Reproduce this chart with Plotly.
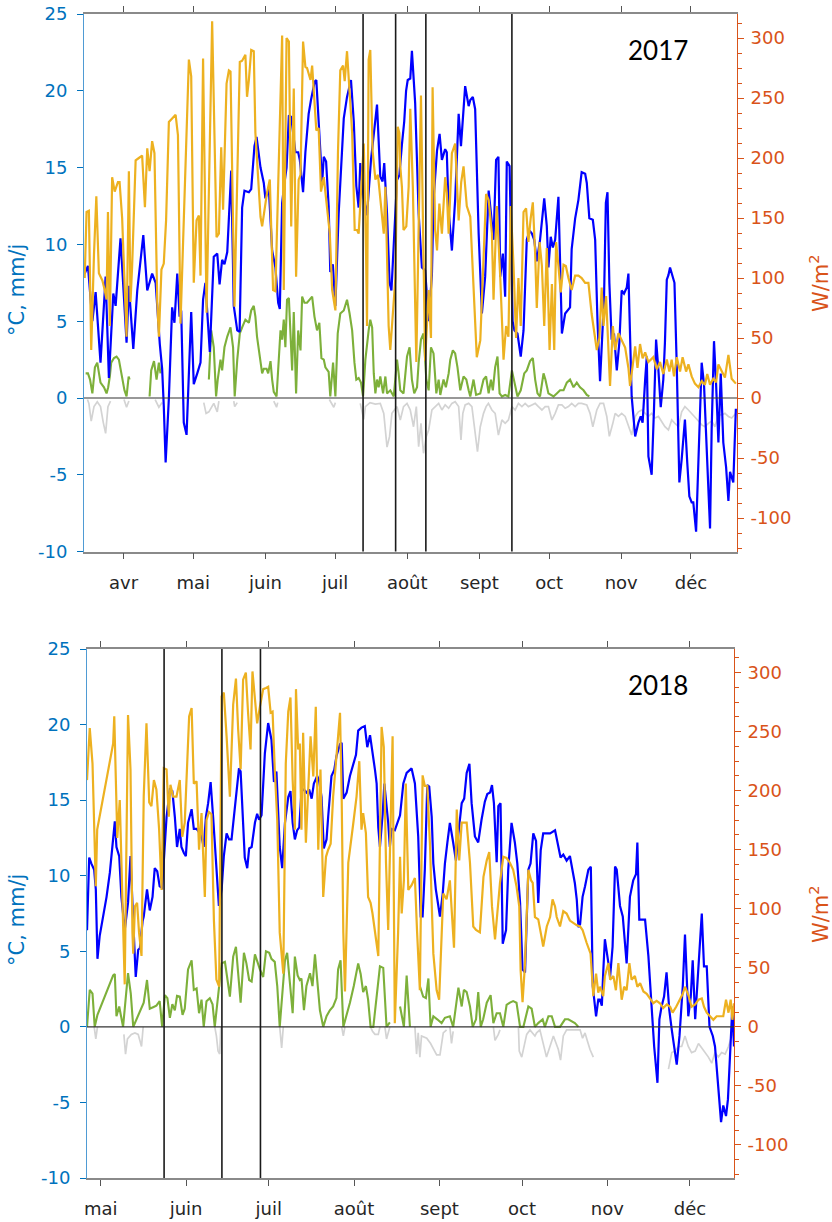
import pandas as pd
import plotly.graph_objects as go

# ---------------- DATA ----------------
BASE17 = "2017-03-15"
BASE18 = "2018-04-26"

months17 = ["2017-04-01", "2017-05-01", "2017-06-01", "2017-07-01", "2017-08-01",
            "2017-09-01", "2017-10-01", "2017-11-01", "2017-12-01"]
labels17 = ["avr", "mai", "juin", "juil", "août", "sept", "oct", "nov", "déc"]
months18 = ["2018-05-01", "2018-06-01", "2018-07-01", "2018-08-01",
            "2018-09-01", "2018-10-01", "2018-11-01", "2018-12-01"]
labels18 = ["mai", "juin", "juil", "août", "sept", "oct", "nov", "déc"]

vlines17 = ["2017-07-13", "2017-07-27", "2017-08-09", "2017-09-15"]
vlines18 = ["2018-05-24", "2018-06-14", "2018-06-28"]

left_ticks = [-10, -5, 0, 5, 10, 15, 20, 25]
left_text = ["-10", "-5", "0", "5", "10", "15", "20", "25"]
right_ticks = [-100, -50, 0, 50, 100, 150, 200, 250, 300]
right_text = ["-100", "-50", "0", "50", "100", "150", "200", "250", "300"]

# (day offset from base, value)  -- temperature, °C
blue17 = [(0.3,8.1),(1.7,8.6),(3.6,5.0),(5.0,6.9),(7.1,2.3),(9.3,7.9),(10.7,1.3),(12.6,6.8),(13.6,6.0),
(15.7,10.4),(18.3,3.6),(19.3,7.3),(21.2,3.2),(22.9,7.0),(25.5,10.6),(27.2,7.0),(29.3,8.1),(30.8,7.5),
(32.6,3.5),(33.6,1.9),(34.3,-0.5),(35.1,-4.2),(36.5,0.0),(37.9,5.9),(38.9,4.9),(40.1,8.1),(41.1,5.3),
(41.8,5.7),(42.9,-1.6),(44.1,-2.4),(46.1,5.6),(47.2,0.9),(48.7,1.6),(50.1,2.3),(51.2,6.4),(52.2,7.5),
(54.1,3.0),(55.8,9.2),(57.3,9.4),(58.3,7.4),(59.4,9.0),(60.4,8.7),(61.6,9.5),(63.3,14.8),(64.4,6.0),
(65.9,4.4),(66.9,4.3),(68.0,12.4),(69.0,13.5),(70.9,13.4),(71.9,13.6),(73.3,16.4),(74.2,17.0),(75.9,15.0),
(77.3,14.0),(78.0,13.0),(79.5,13.6),(80.9,9.6),(82.3,8.5),(83.5,6.2),(84.2,5.8),(85.2,12.7),(86.2,14.0),
(87.1,15.0),(88.1,18.4),(89.1,18.3),(90.9,16.0),(92.1,16.0),(92.8,15.5),(94.2,13.4),(95.2,16.0),(96.6,18.5),
(97.6,19.4),(99.2,20.6),(99.9,20.7),(101.2,17.5),(102.4,14.0),(103.1,15.7),(104.1,15.4),(105.2,12.5),
(105.9,8.2),(107.0,8.7),(108.1,6.0),(109.5,12.0),(111.7,18.2),(113.1,19.6),(114.8,20.7),(116.0,18.0),
(117.1,13.8),(118.1,12.4),(118.8,15.3),(120.3,13.0),(121.7,11.9),(123.4,15.5),(125.3,18.5),(126.0,19.1),
(127.4,14.4),(128.4,14.1),(129.1,15.3),(130.3,12.0),(131.4,7.5),(132.2,7.0),(134.6,14.2),(135.6,14.5),
(136.7,16.5),(137.7,18.0),(138.5,20.0),(139.2,20.7),(140.3,20.8),(141.0,22.6),(142.4,19.2),(143.9,12.0),
(145.3,8.5),(146.7,8.3),(148.2,5.0),(149.6,8.0),(150.3,12.9),(151.8,16.1),(152.9,17.2),(153.9,15.5),
(155.3,16.2),(156.0,16.0),(156.8,12.2),(158.2,9.6),(159.6,12.9),(161.1,18.5),(162.1,16.4),(163.9,20.3),
(165.4,19.0),(166.1,19.4),(167.2,19.6),(168.2,18.8),(169.7,10.7),(171.1,5.5),(172.5,7.9),(174.0,13.5),
(175.0,12.0),(176.1,10.3),(177.2,15.5),(178.2,15.7),(179.0,7.9),(180.1,9.4),(181.1,6.6),(181.8,15.4),
(183.0,15.1),(184.3,5.0),(185.1,4.4),(186.4,4.2),(187.8,2.7),(189.0,4.4),(190.4,10.3),(191.6,10.9),
(192.6,10.7),(193.6,10.3),(194.7,8.9),(196.1,10.3),(197.9,13.0),(199.0,11.2),(199.7,8.5),(200.7,10.5),
(201.6,9.8),(202.6,10.3),(204.0,13.1),(204.7,7.9),(205.5,4.2),(206.9,5.5),(209.0,5.9),(209.7,9.7),
(211.2,11.7),(212.6,12.9),(214.0,14.7),(215.5,14.6),(216.2,14.0),(217.3,11.7),(218.8,11.6),(219.8,10.3),
(220.8,5.0),(221.9,1.1),(222.6,3.3),(223.6,6.4),(224.4,12.7),(225.1,13.4),(225.9,7.5),(226.9,3.8),
(227.9,4.2),(229.1,1.8),(230.2,3.6),(231.2,7.0),(232.2,6.8),(233.4,7.2),(234.1,8.1),(234.8,4.0),
(235.5,0.1),(237.0,-2.5),(238.4,-1.6),(239.4,-1.2),(240.2,-1.6),(241.3,1.2),(242.0,2.7),(242.7,-3.8),
(244.1,-5.0),(245.1,-0.7),(246.0,3.8),(247.0,1.8),(248.0,-0.6),(249.1,1.2),(249.8,3.6),(250.6,7.7),
(251.3,8.0),(252.0,8.5),(253.1,7.8),(253.9,7.5),(254.9,2.0),(256.0,-5.5),(257.0,-4.0),(258.4,-1.4),
(259.4,-4.2),(260.3,-6.4),(261.3,-6.8),(262.0,-6.8),(263.2,-8.7),(264.2,-4.0),(265.6,2.3),(266.6,0.9),
(268.0,-4.0),(269.2,-8.5),(269.9,-2.0),(270.9,3.7),(271.8,0.9),(272.8,-2.9),(273.8,1.6),(274.9,-2.9),
(276.1,-4.5),(277.1,-6.7),(277.8,-4.8),(278.5,-5.1),(279.2,-5.5),(280.3,-0.7)]

# radiation, W/m2
orange17 = [(0.3,100),(1.1,155),(2.1,156),(3.1,40),(4.3,120),(5.3,168),(6.4,104),(7.9,98),(8.9,90),(9.7,82),
(10.3,155),(11.1,60),(12.1,184),(13.2,172),(14.6,180),(15.3,180),(16.4,150),(17.2,109),(18.3,51),(19.3,189),
(20.0,80),(20.7,110),(22.2,198),(23.6,200),(25.0,202),(26.2,159),(27.2,208),(28.2,189),(29.3,214),(30.3,204),
(31.5,80),(32.2,51),(33.3,107),(34.3,112),(35.3,148),(36.5,230),(37.9,233),(39.4,236),(40.4,219),(41.5,62),
(45.1,282),(46.1,268),(47.2,96),(48.4,148),(49.4,152),(50.1,102),(51.2,283),(52.7,71),(55.1,314),(57.0,134),
(58.0,137),(59.0,209),(59.8,157),(61.3,262),(62.3,273),(63.0,272),(64.7,76),(67.0,280),(68.0,281),(69.4,286),
(70.1,251),(70.9,265),(71.9,290),(73.0,289),(73.7,221),(75.9,151),(76.6,143),(78.0,165),(78.7,171),(79.9,182),
(81.3,90),(82.3,89),(85.2,302),(85.9,90),(87.1,300),(88.1,297),(89.1,143),(90.2,258),(91.2,101),(92.3,182),
(93.1,186),(94.2,297),(95.2,276),(95.9,275),(97.4,265),(98.1,277),(99.9,223),(100.9,225),(101.9,172),
(103.1,184),(104.5,159),(105.7,137),(106.7,90),(108.1,73),(109.2,204),(110.2,273),(111.4,277),(112.1,264),
(113.1,289),(114.2,254),(115.3,221),(116.4,140),(117.4,140),(118.1,137),(119.5,187),(120.3,212),(121.3,118),
(121.7,60),(122.4,282),(123.1,290),(124.1,206),(125.3,182),(126.4,186),(127.4,165),(128.9,137),(129.6,176),
(131.0,60),(131.7,40),(133.9,100),(134.9,226),(135.6,221),(136.0,193),(136.7,176),(137.4,140),(138.6,143),
(139.6,176),(140.3,241),(141.4,176),(142.0,115),(142.9,30),(144.9,252),(146.0,120),(146.7,31),(148.2,90),
(149.2,50),(149.9,259),(151.0,140),(151.8,123),(152.8,162),(153.9,137),(155.3,184),(156.0,171),(156.8,137),
(158.2,204),(159.6,212),(161.1,148),(162.2,180),(163.2,193),(164.6,160),(166.1,151),(167.5,87),(168.9,34),
(170.4,48),(171.8,120),(172.9,170),(174.0,165),(175.4,137),(176.1,82),(177.5,160),(179.0,100),(180.4,32),
(181.5,60),(182.5,51),(183.5,160),(184.7,110),(185.8,50),(186.8,100),(187.8,60),(189.0,155),(190.1,158),
(191.1,130),(192.1,150),(193.0,163),(194.0,120),(194.7,75),(195.9,130),(196.9,110),(197.9,60),(199.0,125),
(200.2,40),(201.2,95),(202.2,40),(203.0,130),(204.0,110),(205.0,88),(206.2,111),(207.2,110),(208.3,100),
(209.7,90),(211.2,102),(212.6,102),(214.0,100),(215.5,96),(216.9,96),(218.3,70),(220.5,40),(221.6,50),
(222.6,92),(223.4,60),(224.5,85),(225.5,40),(226.2,10),(227.4,60),(228.4,40),(229.8,54),(231.2,48),
(232.7,42),(234.1,25),(234.8,10),(237.0,43),(238.0,25),(239.1,45),(240.2,33),(241.3,38),(242.7,30),
(244.8,34),(246.3,24),(247.7,30),(249.1,20),(250.6,32),(251.7,22),(252.7,32),(253.7,18),(254.9,34),
(256.3,22),(257.4,34),(258.9,22),(259.9,28),(261.3,18),(262.7,12),(264.2,9),(265.6,14),(267.0,11),
(268.0,20),(269.2,11),(270.6,16),(271.8,13),(272.8,28),(274.2,22),(275.6,17),(277.1,36),(278.5,16),(280.3,12)]

# mm/j (positive part)
green17 = [(0.7,1.6),(1.7,1.6),(2.6,1.2),(3.6,0.3),(4.7,2.0),(5.7,2.3),(7.1,1.0),(8.6,0.7),(9.7,0.3),(10.4,0.7),
(11.1,1.4),(11.7,2.3),(12.9,2.6),(14.0,2.7),(15.0,2.5),(16.4,1.2),(17.4,0.5),(18.3,0.1),(19.2,1.4),(19.6,1.2),
(24.0,None),(28.2,0.1),(28.9,1.8),(30.1,2.4),(31.2,1.2),(32.2,2.3),(32.9,1.6),(40.0,None),(53.7,1.2),(54.7,4.4),
(55.8,3.3),(56.8,0.1),(57.5,1.2),(58.7,2.5),(59.4,1.8),(60.4,3.3),(61.6,4.0),(63.0,4.6),(64.1,3.3),(64.8,0.1),
(65.9,2.5),(67.0,4.2),(68.0,4.6),(69.4,5.1),(70.9,4.9),(71.9,5.7),(73.0,6.0),(73.7,5.3),(74.4,4.0),(75.6,2.5),
(76.6,1.6),(77.3,1.9),(78.5,1.9),(79.2,1.6),(80.2,2.4),(80.9,1.2),(81.6,0.4),(82.8,0.1),(83.7,2.9),(84.5,4.4),
(85.2,3.8),(85.9,5.1),(86.6,3.3),(87.3,6.4),(88.1,6.5),(88.8,4.4),(89.5,1.8),(90.2,5.6),(91.2,0.3),(92.1,4.4),
(93.1,3.1),(93.8,6.6),(94.8,6.2),(95.9,6.2),(97.1,6.4),(98.1,6.6),(99.1,5.3),(100.2,4.4),(101.2,4.9),(102.1,2.6),
(103.1,2.5),(103.8,2.0),(105.2,1.7),(105.9,0.1),(107.1,2.3),(108.1,0.1),(109.1,4.2),(110.2,5.5),(111.7,5.7),
(113.1,6.4),(114.2,5.5),(115.3,4.4),(116.3,2.3),(117.1,1.2),(118.1,1.3),(119.1,1.0),(120.0,0.1),(121.0,2.5),
(122.4,4.4),(123.1,5.1),(123.9,4.6),(124.6,1.6),(125.3,0.3),(126.0,1.2),(126.7,0.7),(127.4,1.4),(128.6,0.3),
(129.6,1.4),(130.3,0.3),(131.7,0.5),(133.2,0.1),(134.6,2.5),(135.3,1.6),(136.0,0.5),(137.4,0.3),(138.9,2.7),
(140.0,3.3),(141.0,1.2),(142.0,0.3),(143.2,0.7),(143.9,2.3),(144.9,3.8),(146.0,4.2),(147.2,1.2),(148.2,0.5),
(149.2,3.3),(150.3,2.9),(151.5,0.3),(152.5,1.2),(153.2,0.2),(154.6,1.2),(155.6,0.7),(156.8,1.6),(157.5,2.5),
(158.6,3.1),(159.6,2.9),(160.6,2.0),(161.8,0.5),(163.2,1.4),(164.4,1.2),(165.4,0.5),(166.1,0.1),(167.5,1.2),
(168.6,0.2),(170.4,0.3),(171.8,1.2),(172.9,1.4),(174.0,0.3),(175.0,1.2),(175.8,0.5),(176.8,2.0),(177.8,2.7),
(178.7,0.3),(179.7,0.1),(181.1,0.2),(182.5,0.1),(184.0,1.8),(185.0,1.0),(186.4,0.1),(187.8,0.5),(189.3,1.6),
(190.4,1.8),(191.8,2.4),(193.0,2.6),(194.0,1.2),(195.0,0.3),(196.1,0.1),(197.6,1.6),(198.4,1.2),(199.7,0.3),
(201.9,0.1),(203.3,0.3),(204.7,0.5),(206.2,0.5),(207.6,1.0),(209.0,1.2),(210.5,0.7),(211.9,1.0),(213.3,0.7),
(214.8,0.5),(216.2,0.2),(217.3,0.1)]

# mm/j (negative part)
grey17 = [(1.5,-0.1),(2.1,-0.35),(3.1,-1.5),(4.3,-0.56),(5.7,-0.24),(7.1,-0.56),(8.3,-1.6),(9.3,-2.3),(10.3,-0.56),
(11.4,-0.2),(14.0,None),(17.2,-0.1),(18.3,-0.6),(19.3,-0.2),(25.0,None),(30.6,-0.1),(32.2,-0.6),(33.6,-0.3),
(45.0,None),(51.5,-0.3),(52.5,-1.0),(53.7,-0.9),(55.8,-0.35),(57.3,-0.9),(58.0,-0.2),(61.0,None),(64.4,-0.2),
(64.8,-0.56),(65.9,-0.3),(75.0,None),(81.6,-0.2),(82.8,-0.6),(83.3,-0.3),(95.0,None),(105.5,-0.1),(106.2,-0.3),
(107.4,-0.6),(108.1,-0.3),(113.0,None),(118.8,-0.35),(120.3,-1.4),(121.0,-0.56),(123.0,-0.3),(125.3,-0.4),
(127.4,-0.35),(128.9,-1.0),(130.3,-3.2),(131.4,-2.5),(132.4,-1.0),(134.6,-0.56),(136.0,-1.43),(137.4,-0.56),
(138.9,-0.35),(140.3,-0.78),(141.7,-1.87),(142.9,-0.56),(143.9,-3.17),(144.9,-1.65),(146.0,-3.6),(147.2,-2.5),
(148.2,-2.08),(149.6,-0.78),(151.0,-0.56),(152.5,-0.35),(153.9,-0.78),(155.3,-0.45),(156.8,-0.67),(158.2,-0.35),
(159.6,-0.24),(161.1,-0.56),(162.1,-2.73),(162.9,-1.0),(163.9,-0.45),(165.4,-0.35),(166.8,-0.56),(168.2,-2.3),
(169.2,-3.5),(170.4,-1.87),(171.8,-1.0),(172.9,-0.56),(173.9,-0.35),(175.4,-0.78),(176.8,-1.0),(178.2,-2.41),
(179.7,-1.43),(181.1,-1.65),(182.5,-1.43),(184.0,-0.56),(185.4,-0.78),(186.8,-0.35),(188.3,-0.56),(189.7,-0.35),
(191.1,-0.56),(192.6,-0.45),(194.0,-0.35),(195.4,-0.56),(196.9,-0.78),(198.3,-0.56),(199.7,-0.56),(201.2,-1.43),
(202.6,-1.0),(204.0,-0.45),(205.5,-0.45),(206.9,-0.67),(208.3,-0.56),(209.7,-0.35),(211.2,-0.56),(212.6,-0.35),
(214.0,-0.35),(216.2,-0.45),(217.6,-1.0),(218.8,-1.87),(220.5,-0.78),(221.9,-0.35),(223.4,-0.35),(224.8,-1.2),
(225.9,-2.5),(227.4,-1.65),(228.4,-1.0),(229.8,-1.2),(231.2,-1.0),(232.7,-1.2),(234.1,-1.87),(235.5,-2.41),
(237.0,-1.2),(238.4,-0.9),(239.8,-0.78),(241.3,-1.0),(242.7,-1.2),(244.1,-1.0),(245.5,-1.3),(247.0,-1.2),
(248.4,-1.5),(249.8,-1.87),(251.3,-2.08),(252.7,-1.43),(254.1,-1.65),(255.6,-1.87),(257.0,-0.9),(258.4,-0.56),
(259.9,-0.78),(261.3,-1.0),(262.7,-1.2),(264.2,-1.5),(265.6,-1.75),(267.0,-1.87),(268.5,-1.65),(269.9,-1.5),
(271.3,-1.87),(272.8,-1.1),(274.2,-1.1),(275.6,-1.0),(277.1,-1.2),(278.5,-1.3),(280.3,-1.0)]

blue18 = [(0.0,6.4),(0.8,11.2),(1.6,10.8),(2.6,10.4),(3.2,9.1),(3.8,4.5),(4.6,6.0),(5.9,7.3),(7.1,8.6),(8.3,10.2),
(9.5,12.6),(10.1,13.6),(10.7,11.9),(11.7,11.3),(12.5,8.6),(13.7,6.4),(14.9,8.2),(15.8,11.3),(16.5,8.2),(17.0,6.0),
(17.7,3.3),(18.6,5.1),(19.2,5.2),(20.2,7.0),(20.6,7.3),(21.8,9.1),(22.8,7.7),(23.8,8.6),(24.6,10.5),(25.5,10.3),
(26.4,9.3),(27.3,9.2),(27.9,11.3),(28.9,13.9),(30.1,15.7),(31.0,15.6),(31.9,13.9),(32.7,11.9),(33.7,13.1),
(34.3,11.9),(35.2,11.5),(35.9,11.3),(36.7,13.5),(38.0,14.4),(38.8,13.1),(39.8,13.1),(40.6,12.9),(41.6,12.6),
(42.4,11.9),(43.2,13.9),(44.0,14.8),(44.9,16.2),(45.8,13.9),(46.8,10.8),(47.3,9.3),(47.9,8.0),(48.9,9.1),
(49.7,11.3),(50.7,12.8),(51.6,12.4),(52.5,12.4),(53.3,13.9),(54.3,15.7),(55.2,17.1),(55.8,16.9),(56.7,13.0),
(57.3,11.2),(58.2,10.5),(58.9,11.8),(59.8,11.9),(61.0,13.5),(61.8,14.1),(62.5,13.7),(63.4,14.0),(64.6,18.1),
(65.8,20.1),(67.0,19.0),(67.9,16.2),(68.8,16.9),(70.0,11.9),(70.9,10.5),(71.9,13.5),(73.1,15.2),(73.9,15.6),
(74.7,13.5),(75.5,12.4),(76.3,13.0),(77.1,13.2),(77.9,15.6),(78.8,15.7),(79.7,15.5),(80.7,15.7),(81.6,15.1),
(82.4,16.1),(83.6,16.6),(84.3,16.3),(85.2,15.2),(86.0,11.8),(87.0,12.4),(87.6,13.9),(88.8,16.6),(89.8,17.0),
(90.6,17.9),(91.9,18.7),(92.5,18.8),(93.1,15.1),(94.3,15.5),(95.5,16.6),(96.7,17.3),(97.7,18.0),(98.5,19.6),
(99.7,19.8),(100.9,19.9),(101.8,18.5),(102.8,19.3),(103.7,18.3),(104.6,17.0),(105.2,16.1),(105.8,13.2),
(106.4,11.9),(107.4,14.1),(108.0,16.1),(108.8,14.8),(109.4,13.5),(110.0,11.9),(110.6,13.1),(111.8,13.0),
(113.1,13.7),(113.7,14.0),(114.9,16.1),(116.1,16.8),(117.9,17.1),(119.1,16.1),(120.3,12.6),(121.2,7.3),
(121.9,7.3),(122.7,10.4),(123.6,16.0),(124.3,15.9),(125.2,13.9),(125.8,10.8),(126.7,9.1),(127.6,8.0),
(128.2,7.3),(129.2,8.8),(130.0,10.8),(130.9,12.2),(131.8,13.5),(133.0,12.2),(134.0,11.0),(134.9,12.8),
(136.1,14.8),(137.0,15.1),(137.9,16.8),(138.9,17.4),(139.7,14.8),(140.9,12.6),(142.1,12.2),(143.3,13.7),
(144.5,14.9),(145.4,15.4),(146.4,15.5),(147.1,16.0),(147.8,14.8),(148.8,10.9),(149.4,14.6),(150.2,14.8),
(151.0,5.5),(152.2,6.4),(153.0,10.4),(154.2,13.5),(155.4,12.2),(156.3,10.8),(157.3,8.2),(158.2,3.8),
(159.1,3.6),(160.3,10.4),(161.1,10.8),(162.1,12.8),(163.1,12.3),(163.9,8.2),(164.8,11.7),(165.7,12.8),
(167.0,12.8),(168.2,12.8),(170.0,13.0),(171.2,11.9),(172.0,11.2),(173.0,11.4),(174.2,11.0),(175.4,11.3),
(176.4,10.2),(177.2,9.5),(177.9,8.4),(178.5,6.6),(179.1,6.8),(180.0,8.6),(180.9,9.3),(182.1,10.4),
(183.0,10.6),(183.7,2.7),(184.9,0.7),(185.7,1.8),(186.3,1.8),(187.0,1.4),(187.5,3.6),(188.1,5.8),
(189.4,4.2),(190.0,3.3),(190.9,5.3),(191.8,10.6),(192.4,10.4),(193.6,8.0),(194.6,7.3),(196.0,4.2),
(197.2,8.6),(198.4,9.7),(199.4,10.1),(199.9,12.2),(200.6,7.1),(201.5,7.1),(202.7,7.1),(203.9,4.7),
(205.1,1.35),(206.0,-1.3),(207.2,-3.7),(207.9,0.5),(208.7,1.35),(209.6,2.0),(210.5,3.6),(211.5,1.1),
(212.4,-0.2),(213.2,-1.3),(214.2,-2.5),(215.2,-0.6),(216.4,2.7),(217.2,6.1),(217.8,3.1),(218.4,0.7),
(219.3,2.0),(220.0,4.4),(220.9,0.5),(221.7,2.7),(222.7,5.1),(223.3,7.5),(224.1,4.0),(225.1,4.0),
(226.1,0.0),(227.3,-0.6),(228.1,-1.3),(229.0,-3.5),(229.7,-5.3),(230.3,-6.3),(231.1,-5.2),(232.1,-5.9),
(232.8,-4.8),(233.8,-0.2),(234.4,1.35),(235.0,-1.3)]

orange18 = [(0.0,209),(1.0,253),(2.0,223),(3.2,119),(3.7,167),(4.6,178),(5.9,195),(7.1,210),(8.3,225),(9.5,240),
(9.9,263),(11.0,160),(11.9,192),(13.1,80),(13.7,36),(14.9,264),(15.8,218),(16.5,80),(16.8,62),(17.4,102),
(18.2,105),(18.9,80),(19.8,60),(20.6,195),(21.6,257),(22.6,190),(23.4,187),(24.3,209),(25.2,201),(26.2,167),
(27.1,116),(27.9,219),(28.9,218),(29.7,178),(30.3,205),(31.3,195),(32.5,195),(33.7,209),(34.6,161),(35.5,173),
(36.1,209),(37.1,263),(38.0,270),(38.8,206),(39.8,208),(40.7,150),(41.6,181),(42.8,110),(43.4,175),(44.3,182),
(45.2,180),(46.1,90),(47.0,40),(48.0,34),(48.9,280),(49.7,283),(50.7,246),(51.9,195),(53.1,273),(54.1,295),
(54.9,252),(55.8,218),(56.7,294),(57.7,300),(58.5,266),(59.4,235),(60.1,301),(61.0,274),(61.8,257),(62.8,271),
(64.0,286),(65.0,287),(65.8,288),(66.7,266),(67.4,267),(68.2,218),(69.1,175),(70.0,80),(71.3,45),(72.2,223),
(73.1,267),(73.9,279),(74.7,209),(75.5,167),(75.9,286),(76.7,235),(77.3,240),(77.9,167),(78.5,249),(79.5,156),
(80.3,195),(81.2,246),(82.2,212),(83.1,271),(84.0,150),(84.8,218),(85.8,110),(86.8,144),(87.6,150),(88.5,155),
(89.4,195),(90.4,223),(91.2,246),(91.9,266),(92.5,195),(93.1,80),(93.7,30),(94.9,139),(96.7,172),(97.9,195),
(98.9,225),(99.7,167),(100.3,181),(101.3,164),(102.1,110),(103.0,105),(103.7,96),(104.6,80),(105.8,60),
(107.0,254),(107.8,237),(108.6,139),(109.4,82),(111.0,246),(111.8,3),(113.0,80),(113.7,144),(114.3,96),
(115.1,124),(115.8,206),(116.7,116),(117.9,120),(119.1,126),(119.9,80),(120.9,31),(121.9,213),(122.7,204),
(123.6,204),(124.6,153),(125.2,105),(125.8,62),(127.0,31),(127.9,23),(129.4,113),(130.6,108),(131.8,124),
(132.8,80),(133.3,67),(134.3,184),(135.2,141),(136.1,173),(136.9,173),(137.9,173),(139.1,139),(140.3,85),
(141.3,82),(142.7,80),(144.0,127),(145.2,141),(146.1,148),(147.1,102),(148.2,74),(150.0,122),(151.2,144),
(152.4,143),(153.6,139),(154.8,133),(156.0,119),(157.0,102),(157.5,48),(158.2,21),(159.1,54),(160.3,133),
(161.3,124),(161.9,122),(162.7,93),(163.9,91),(165.1,76),(165.7,68),(167.0,85),(168.2,93),(169.1,108),
(170.0,102),(170.6,93),(171.8,85),(173.0,98),(174.2,96),(175.4,90),(176.6,88),(177.9,86),(179.1,85),
(180.0,82),(181.5,71),(182.9,62),(183.9,26),(184.9,45),(185.7,29),(186.3,34),(187.5,26),(188.1,43),
(189.4,54),(190.0,40),(191.2,43),(192.1,31),(193.0,54),(194.2,23),(195.1,34),(196.0,31),(197.0,54),
(197.8,40),(199.0,43),(199.9,34),(200.9,37),(202.1,30),(203.3,28),(204.7,23),(205.7,20),(206.9,22),
(208.1,20),(209.3,16),(210.6,19),(211.8,17),(212.7,12),(214.0,17),(215.2,23),(216.4,28),(217.2,34),
(218.4,27),(219.6,17),(220.9,19),(222.1,23),(223.3,24),(224.1,17),(225.1,12),(226.3,9),(227.5,6),
(228.7,9),(229.9,9),(231.1,9),(232.1,23),(233.0,12),(233.8,23),(234.4,6),(235.0,20)]

green18 = [(0.0,0.0),(1.0,2.45),(2.0,2.2),(2.8,0.0),(3.8,0.8),(9.5,3.4),(10.1,3.5),(10.7,0.7),(11.7,1.35),(12.5,0.5),
(13.1,0.0),(14.9,3.55),(15.9,2.2),(16.8,0.0),(20.6,1.6),(21.8,3.1),(22.8,1.2),(24.0,1.3),(25.2,1.4),(26.4,1.7),
(27.3,0.0),(28.3,2.1),(29.2,1.9),(30.1,0.6),(31.0,1.5),(31.9,1.1),(32.7,2.05),(33.7,2.0),(34.7,0.8),(35.5,1.2),
(36.7,3.8),(38.0,4.4),(38.8,2.45),(39.8,2.55),(40.7,0.9),(41.6,1.8),(42.4,0.0),(43.4,1.7),(44.6,1.9),(45.6,1.5),
(46.4,0.0),(48.0,2.7),(48.9,4.2),(50.1,4.3),(51.9,2.0),(53.1,4.65),(54.1,5.3),(54.9,3.55),(55.8,1.6),(57.0,4.9),
(57.9,4.2),(58.9,3.1),(59.8,3.0),(61.0,4.8),(61.8,4.3),(62.8,3.8),(64.0,3.3),(65.0,5.0),(66.2,4.9),(67.0,4.5),
(68.2,4.3),(69.1,2.7),(70.0,0.0),(71.0,2.7),(71.9,4.4),(72.7,4.9),(73.7,2.7),(74.7,0.9),(75.5,4.65),(76.5,3.4),
(77.3,3.1),(77.9,3.2),(78.8,1.1),(79.7,2.7),(81.0,3.55),(81.9,2.7),(82.8,4.8),(83.6,2.9),(84.6,1.1),(85.8,0.0),
(87.0,0.7),(88.2,1.1),(89.4,1.35),(90.6,1.9),(91.2,3.8),(92.1,4.4),(93.1,0.0),(95.5,1.6),(96.9,2.7),(98.5,4.2),
(99.4,3.5),(100.3,2.3),(101.3,2.7),(102.1,1.8),(103.0,0.0),(104.0,0.0),(106.4,4.0),(107.6,3.9),(108.8,0.0),
(110.0,0.3),(112.0,None),(113.7,1.35),(115.1,0.0),(116.1,3.4),(117.3,0.0),(119.0,None),(120.9,2.7),(122.1,2.0),
(123.1,1.9),(124.0,3.2),(124.8,0.0),(125.8,0.7),(127.2,0.5),(128.8,0.25),(130.0,0.6),(131.8,0.7),(133.0,0.0),
(134.9,2.6),(136.1,1.35),(136.9,2.45),(137.9,2.3),(139.1,1.35),(140.1,0.0),(141.3,0.5),(142.1,2.3),(143.0,0.0),
(143.9,0.5),(145.2,1.6),(146.6,2.1),(147.6,0.25),(148.8,0.9),(150.0,0.9),(151.2,0.0),(152.4,1.45),(153.6,1.6),
(154.8,1.7),(156.0,1.6),(157.3,0.0),(158.5,0.0),(160.3,1.35),(161.5,1.2),(162.7,0.0),(163.9,0.25),(165.5,0.5),
(166.3,0.0),(167.6,0.7),(168.8,0.7),(170.0,0.0),(171.8,0.0),(173.6,0.5),(174.8,0.5),(176.0,0.35),(177.2,0.25),
(178.5,0.0)]

grey18 = [(2.6,0.0),(3.2,-0.8),(3.8,0.0),(8.0,None),(13.4,-0.5),(14.0,-1.8),(14.7,-0.8),(16.1,-0.5),(17.4,-0.4),
(18.6,-0.5),(19.8,-1.3),(20.4,0.0),(30.0,None),(46.4,0.0),(47.0,-0.6),(47.6,-1.6),(48.2,-1.8),(48.6,0.0),
(60.0,None),(70.0,0.0),(70.7,-1.4),(71.3,0.0),(80.0,None),(92.5,0.0),(93.1,-0.6),(93.7,0.0),(98.0,None),
(103.0,0.0),(103.7,-0.3),(104.6,-0.5),(105.8,-0.5),(106.4,0.0),(107.0,None),(108.2,0.0),(108.8,-0.8),
(110.0,0.0),(114.0,None),(119.1,0.0),(119.7,-1.8),(120.3,-0.4),(120.9,-2.0),(121.5,-0.6),(123.4,-0.75),
(124.8,-1.1),(125.8,-1.4),(127.0,-1.85),(128.2,-1.85),(129.4,-0.4),(130.6,-0.2),(131.2,None),(131.8,0.0),
(132.4,-1.1),(133.0,-0.3),(140.0,None),(147.6,0.0),(148.2,-0.9),(149.4,-0.5),(150.0,-0.2),(153.0,None),
(156.7,0.0),(157.0,-1.6),(157.9,-2.0),(158.7,-1.3),(159.7,-0.5),(160.9,-0.2),(162.7,-0.6),(163.3,-0.4),
(164.5,-0.2),(166.9,-2.0),(168.2,-1.3),(169.4,-0.6),(171.2,-1.5),(172.0,-2.2),(173.0,-0.6),(174.2,-0.2),
(176.6,-0.2),(179.1,-0.2),(180.0,-0.75),(180.9,-0.4),(181.7,-0.9),(182.7,-1.5),(183.9,-2.0),(195.0,None),
(211.2,-2.8),(212.4,-1.7),(213.6,-1.6),(214.8,-1.3),(216.0,-1.3),(217.2,-0.6),(218.4,-1.3),(219.6,-1.7),
(220.9,-1.6),(222.1,-1.1),(223.3,-1.4),(224.5,-1.7),(225.7,-2.0),(226.9,-2.4),(228.1,-1.7),(229.3,-2.0),
(230.5,-1.7),(231.8,-1.8),(233.0,-1.3),(234.2,-0.6),(235.0,-0.4)]

# ---------------- STYLE ----------------
W, H = 832, 1222
BLUE = "#0000FF"
ORANGE = "#EDB120"
GREEN = "#77AC30"
GREY = "#D3D3D3"
LEFTC = "#0072BD"
RIGHTC = "#D95319"
FONT = "DejaVu Sans"


def xy(base, pairs):
    b = pd.Timestamp(base)
    xs = [b + pd.Timedelta(days=d) for d, _ in pairs]
    ys = [v for _, v in pairs]
    return xs, ys


fig = go.Figure()


def add(base, pairs, color, width, xa, ya, opacity=1.0):
    xs, ys = xy(base, pairs)
    fig.add_trace(go.Scatter(x=xs, y=ys, mode="lines", line=dict(color=color, width=width),
                             opacity=opacity, xaxis=xa, yaxis=ya, connectgaps=False,
                             showlegend=False, hoverinfo="skip"))


add(BASE17, grey17, GREY, 1.7, "x", "y")
add(BASE17, green17, GREEN, 2.1, "x", "y", 0.95)
add(BASE17, blue17, BLUE, 2.2, "x", "y")
add(BASE17, orange17, ORANGE, 2.2, "x", "y2")
add(BASE18, grey18, GREY, 1.7, "x2", "y3")
add(BASE18, green18, GREEN, 2.1, "x2", "y3", 0.95)
add(BASE18, blue18, BLUE, 2.2, "x2", "y3")
add(BASE18, orange18, ORANGE, 2.2, "x2", "y4")


def py(px):  # pixel from top -> paper fraction
    return 1 - px / H


xcommon = dict(type="date", showgrid=False, zeroline=False, showline=True, linecolor="#8a8a8a",
               linewidth=1.5, mirror="ticks", ticks="outside", ticklen=6, tickcolor="#555555",
               tickwidth=1, tickfont=dict(family=FONT, size=18, color="#262626"),
               ticklabelstandoff=8, automargin=False, fixedrange=True)
yleft = dict(showgrid=False, zeroline=False, showline=True, linecolor="#4f9bd4", linewidth=1,
             ticks="outside", ticklen=6, tickcolor=LEFTC, tickmode="array",
             tickvals=left_ticks, ticktext=left_text,
             tickfont=dict(family=FONT, size=18, color=LEFTC), range=[-10, 25],
             ticklabelstandoff=6, automargin=False, fixedrange=True)
yright = dict(showgrid=False, zeroline=False, showline=True, linecolor=RIGHTC, linewidth=1,
              ticks="outside", ticklen=6, tickcolor=RIGHTC, tickmode="array",
              tickvals=right_ticks, ticktext=right_text,
              minor=dict(tickmode="linear", dtick=12.5, tick0=0, ticks="outside", ticklen=4,
                         tickcolor=RIGHTC),
              tickfont=dict(family=FONT, size=18, color=RIGHTC), range=[-128, 320],
              side="right", ticklabelstandoff=3, automargin=False, fixedrange=True)

fig.update_layout(
    width=W, height=H, margin=dict(l=0, r=0, t=0, b=0), autosize=False,
    plot_bgcolor="white", paper_bgcolor="white", showlegend=False,
    xaxis=dict(domain=[84 / W, 737 / W], anchor="y", range=["2017-03-15", "2017-12-20 19:00"],
               tickvals=months17, ticktext=labels17, **xcommon),
    yaxis=dict(domain=[py(551.6), py(14)], anchor="x", **yleft),
    yaxis2=dict(overlaying="y", anchor="x", **yright),
    xaxis2=dict(domain=[87 / W, 734 / W], anchor="y3", range=["2018-04-26", "2018-12-17"],
                tickvals=months18, ticktext=labels18, **xcommon),
    yaxis3=dict(domain=[py(1178), py(649)], anchor="x2", **yleft),
    yaxis4=dict(overlaying="y3", anchor="x2", **yright),
)

shapes = []
for xr, yr, vl in (("x", "y", vlines17), ("x2", "y3", vlines18)):
    shapes.append(dict(type="line", xref=f"{xr} domain", x0=0, x1=1, yref=yr, y0=0, y1=0,
                       line=dict(color="#333333", width=1.2), layer="above"))
    for d in vl:
        shapes.append(dict(type="line", xref=xr, x0=d, x1=d, yref=f"{yr} domain", y0=0, y1=1,
                           line=dict(color="#1a1a1a", width=1.6), layer="above"))
fig.update_layout(shapes=shapes)

ann = []
for year, yy in (("2017", 50), ("2018", 685)):
    ann.append(dict(text=year, x=658 / W, y=py(yy), xref="paper", yref="paper", showarrow=False,
                    xanchor="center", yanchor="middle", font=dict(family="Lato", size=26, color="black")))
for yy in (290, 920):
    ann.append(dict(text="°C, mm/j", x=17 / W, y=py(yy), xref="paper", yref="paper", showarrow=False,
                    textangle=-90, xanchor="center", yanchor="middle",
                    font=dict(family=FONT, size=21, color=LEFTC)))
for yy in (283, 914):
    ann.append(dict(text="W/m<sup>2</sup>", x=819 / W, y=py(yy), xref="paper", yref="paper",
                    showarrow=False, textangle=-90, xanchor="center", yanchor="middle",
                    font=dict(family=FONT, size=21, color=RIGHTC)))
fig.update_layout(annotations=ann)

fig.write_html("out.html", config={"displayModeBar": False},
               post_script="document.body.style.margin='0px';")
